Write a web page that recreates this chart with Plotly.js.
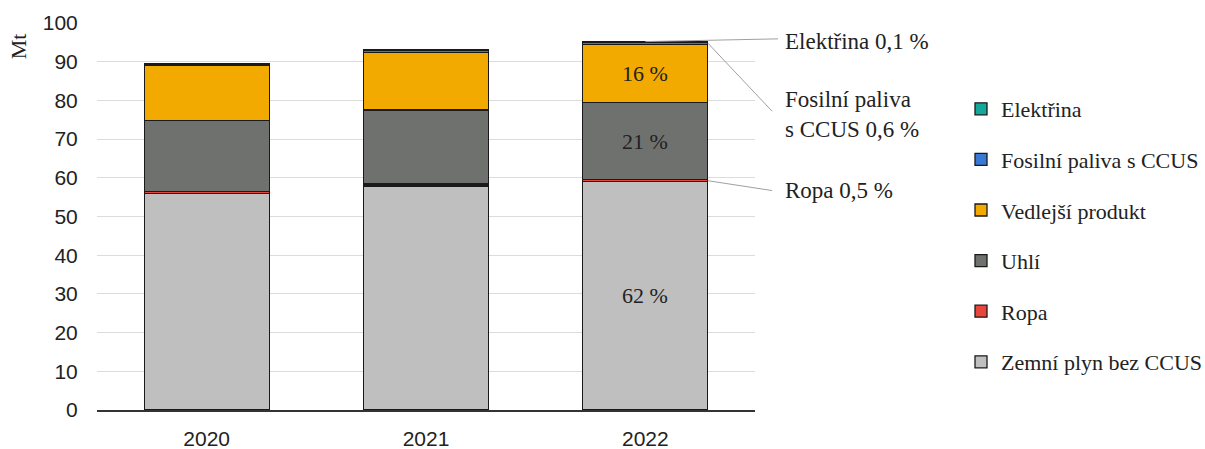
<!DOCTYPE html>
<html>
<head>
<meta charset="utf-8">
<script src="https://cdn.plot.ly/plotly-3.0.1.min.js"></script>
<style>html,body{margin:0;padding:0;background:#fff;}#chart{width:1205px;height:449px;}</style>
</head>
<body>
<div id="chart"></div>
<script>
// ---- data ----
const years = ['2020', '2021', '2022'];
const seriesNames = ['Zemní plyn bez CCUS', 'Ropa', 'Uhlí', 'Vedlejší produkt', 'Fosilní paliva s CCUS', 'Elektřina'];
const gasValues = [56.0, 57.9, 59.0];
const oilValues = [0.5, 0.5, 0.5];
const coalValues = [18.3, 19.1, 20.0];
const byproductValues = [14.2, 14.9, 15.0];
const ccusValues = [0.4, 0.5, 0.6];
const electricityValues = [0.1, 0.1, 0.1];
const seriesColors = ['#bfbfbf', '#e8453c', '#6f716f', '#f2a900', '#3a78d6', '#14a89a'];

const allSeries = [gasValues, oilValues, coalValues, byproductValues, ccusValues, electricityValues];
const serif = '"Liberation Serif", "Times New Roman", serif';
const sans = '"Liberation Sans", Arial, sans-serif';
const xPos = years.map((_, i) => i);
const barWidth = 0.57;

const traces = allSeries.map((vals, i) => ({
  type: 'bar',
  name: seriesNames[i],
  x: xPos,
  y: vals,
  width: barWidth,
  legendgroup: 'g' + i,
  legendrank: (allSeries.length - i) * 10,
  marker: {color: seriesColors[i], line: {color: '#1a1a1a', width: 1.3}},
  hoverinfo: 'skip'
}));

// cumulative values for last year
const li = years.length - 1;
const total = allSeries.reduce((s, a) => s + a[li], 0);
const cum = [];
let acc = 0;
allSeries.forEach(a => { cum.push([acc, acc + a[li]]); acc += a[li]; });
const pct = (v, d) => (100 * v / total).toFixed(d).replace('.', ',') + ' %';

const annotations = [
  {x: li, y: (cum[0][0] + cum[0][1]) / 2, text: pct(gasValues[li], 0)},
  {x: li, y: (cum[2][0] + cum[2][1]) / 2, text: pct(coalValues[li], 0)},
  {x: li, y: (cum[3][0] + cum[3][1]) / 2, text: pct(byproductValues[li], 0)}
].map(a => Object.assign(a, {xref: 'x', yref: 'y', showarrow: false, font: {family: serif, size: 22, color: '#222'}}));

const sideLabels = [
  {y: 95.3, text: seriesNames[5] + ' ' + pct(electricityValues[li], 1)},
  {y: 76.4, text: 'Fosilní paliva<br>s CCUS ' + pct(ccusValues[li], 1)},
  {y: 56.6, text: seriesNames[1] + ' ' + pct(oilValues[li], 1)}
];
sideLabels.forEach(s => annotations.push({
  xref: 'paper', yref: 'y', x: 1.0426, y: s.y, xanchor: 'left', yanchor: 'middle', align: 'left',
  text: s.text, showarrow: false, font: {family: serif, size: 23, color: '#222'}
}));
annotations.push({
  xref: 'paper', yref: 'paper', x: -0.12, y: 0.94, xanchor: 'center', yanchor: 'middle', text: 'Mt', textangle: -90,
  showarrow: false, font: {family: serif, size: 22, color: '#222'}
});

// x positions in paper units for the last bar (centre and right edge)
const nCat = years.length;
const barCentre = (li + 0.5) / nCat;
const barRight = (li + 0.5 + barWidth / 2) / nCat;
const lineStyle = {color: '#a0a0a0', width: 1};
const shapes = [
  {type: 'line', xref: 'paper', yref: 'y', x0: barCentre, y0: cum[5][1], x1: 1.035, y1: 95.9, line: lineStyle},
  {type: 'line', xref: 'paper', yref: 'y', x0: barRight, y0: (cum[4][0] + cum[4][1]) / 2, x1: 1.026, y1: 77.2, line: lineStyle},
  {type: 'line', xref: 'paper', yref: 'y', x0: barRight, y0: (cum[1][0] + cum[1][1]) / 2, x1: 1.026, y1: 56.7, line: lineStyle}
];

const layout = {
  width: 1205, height: 449,
  margin: {l: 97, r: 450, t: 23, b: 39},
  barmode: 'stack',
  paper_bgcolor: '#fff', plot_bgcolor: '#fff',
  showlegend: true,
  legend: {
    traceorder: 'grouped', tracegroupgap: 19,
    xref: 'container', yref: 'container', maxheight: 420,
    x: 961 / 1205, y: 1 - 88 / 449, xanchor: 'left', yanchor: 'top',
    font: {family: serif, size: 22, color: '#222'},
    bgcolor: 'rgba(0,0,0,0)'
  },
  xaxis: {
    type: 'linear', range: [-0.5, years.length - 0.5],
    tickmode: 'array', tickvals: xPos, ticktext: years,
    showgrid: false, showline: true, linecolor: '#333', linewidth: 1.5,
    ticks: 'outside', ticklen: 9, tickcolor: 'rgba(0,0,0,0)',
    tickfont: {family: sans, size: 21, color: '#222'}, zeroline: false
  },
  yaxis: {
    range: [0, 100], dtick: 10, showgrid: true, gridcolor: '#dcdcdc', gridwidth: 1,
    showline: false, zeroline: false,
    ticks: 'outside', ticklen: 14, tickcolor: 'rgba(0,0,0,0)',
    tickfont: {family: sans, size: 21, color: '#222'}
  },
  annotations: annotations,
  shapes: shapes
};

Plotly.newPlot('chart', traces, layout, {displayModeBar: false, staticPlot: true});
</script>
</body>
</html>
